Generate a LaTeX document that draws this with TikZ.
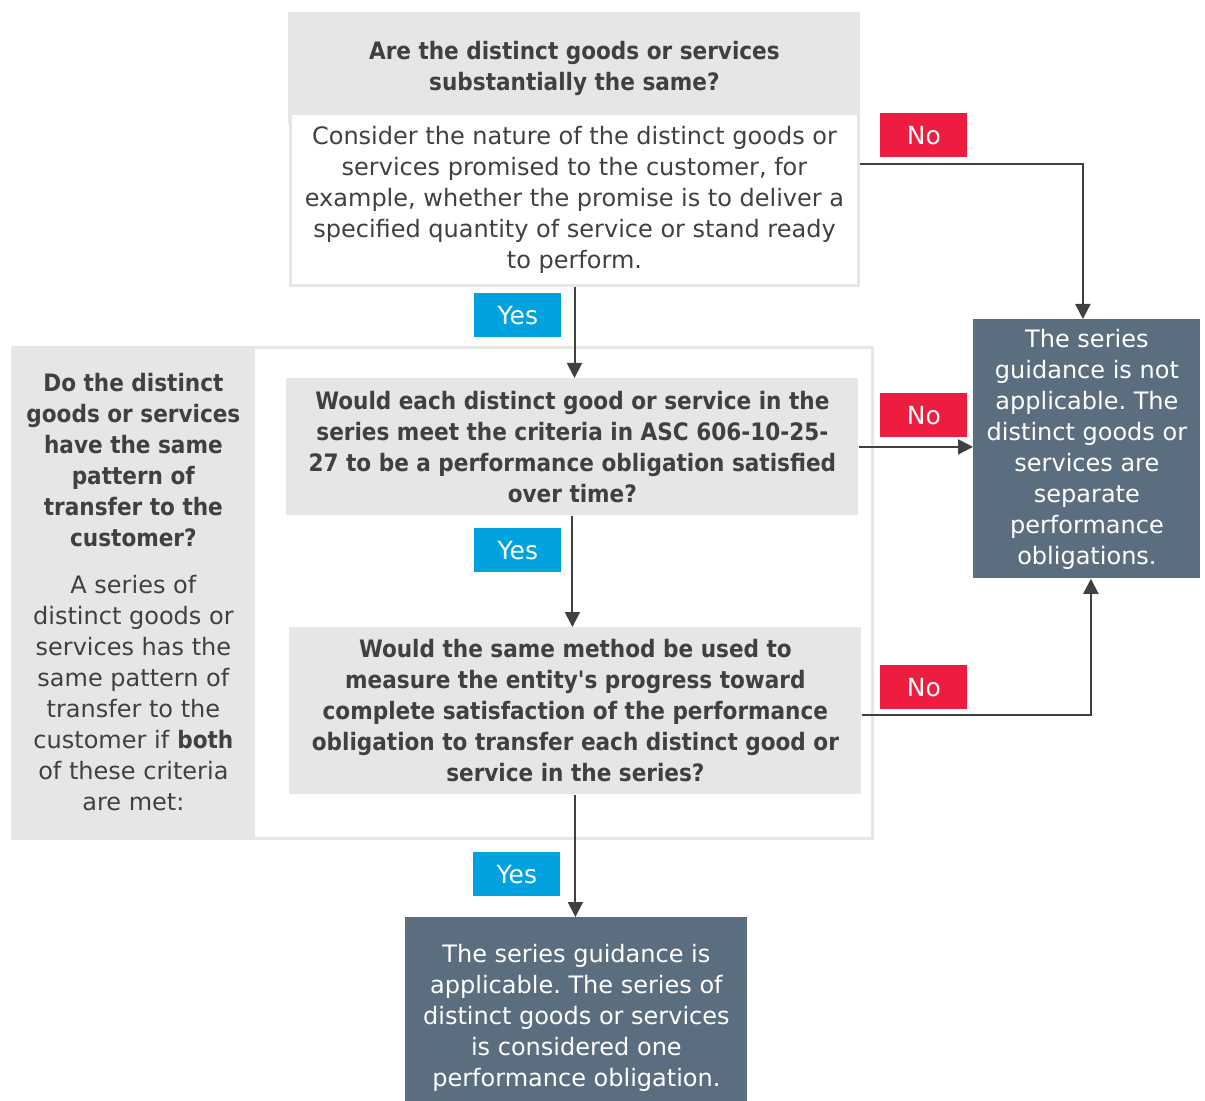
\documentclass[tikz,border=0pt]{standalone}
\usepackage{fontspec}
\setmainfont{DejaVu Sans}[BoldFont={DejaVu Sans Condensed Bold}]
\usetikzlibrary{arrows.meta}
\usetikzlibrary{positioning}
\usetikzlibrary{calc}

\definecolor{boxgray}{HTML}{E6E6E6}
\definecolor{txtgray}{HTML}{404040}
\definecolor{slate}{HTML}{5B6E80}
\definecolor{nored}{HTML}{EE1C3F}
\definecolor{yesblue}{HTML}{00A3E0}
\definecolor{linegray}{HTML}{404040}

\tikzset{
  box/.style={anchor=north west, inner sep=0pt, align=center, text=txtgray,
    font=\fontsize{12}{15.5}\selectfont},
  qbox/.style={box, fill=boxgray, font=\bfseries\fontsize{12}{15.5}\selectfont},
  endbox/.style={box, fill=slate, text=white},
  tag/.style={anchor=north west, inner sep=0pt, text=white, minimum width=43.5pt,
    minimum height=22pt, font=\fontsize{12.5}{15}\selectfont},
  nolab/.style={tag, fill=nored},
  yeslab/.style={tag, fill=yesblue},
  arr/.style={draw=linegray, line width=1pt, -{Triangle[length=7.5pt,width=7.5pt]}}
}
\frenchspacing

\begin{document}
\begin{tikzpicture}[x=0.5pt, y=-0.5pt]
  \clip (0,0) rectangle (1205,1101);
  \fill[white] (0,0) rectangle (1205,1101);

  % first question
  \node[qbox, minimum width=286pt, minimum height=56pt] (head) at (288,12)
    {Are the distinct goods or services\\substantially the same?};
  \node[box, fill=white, draw=boxgray, line width=1.5pt, minimum width=284pt,
    minimum height=86pt] (consider) at (289,112)
    {Consider the nature of the distinct goods or\\
     services promised to the customer, for\\
     example, whether the promise is to deliver a\\
     specified quantity of service or stand ready\\
     to perform.};

  % series criteria
  \node[box, draw=boxgray, line width=1.5pt, minimum width=430pt,
    minimum height=245.5pt] (series) at (11,346) {};
  \node[box, fill=boxgray, minimum width=122pt, minimum height=245.5pt] (pattern) at (11,346)
    {\textbf{Do the distinct}\\ \textbf{goods or services}\\ \textbf{have the same}\\
     \textbf{pattern of}\\ \textbf{transfer to the}\\ \textbf{customer?}\\[8pt]
     A series of\\ distinct goods or\\ services has the\\ same pattern of\\
     transfer to the\\ customer if \textbf{both}\\ of these criteria\\ are met:};

  \node[qbox, minimum width=286pt, minimum height=68.5pt] (overtime) at (286,378)
    {Would each distinct good or service in the\\
     series meet the criteria in ASC 606-10-25-\\
     27 to be a performance obligation satisfied\\
     over time?};
  \node[qbox, minimum width=286pt, minimum height=83.5pt] (method) at (289,627)
    {Would the same method be used to\\
     measure the entity\textquotesingle s progress toward\\
     complete satisfaction of the performance\\
     obligation to transfer each distinct good or\\
     service in the series?};

  % outcomes
  \node[endbox, minimum width=113.5pt, minimum height=129.5pt] (notapp) at (973,319)
    {The series\\ guidance is not\\ applicable. The\\ distinct goods or\\
     services are\\ separate\\ performance\\ obligations.};
  \node[endbox, minimum width=171pt, minimum height=100pt] (applies) at (405,917)
    {The series guidance is\\ applicable. The series of\\ distinct goods or services\\
     is considered one\\ performance obligation.};

  % answers
  \node[nolab] (no1) at (880,113) {No};
  \node[nolab] (no2) at (880,393) {No};
  \node[nolab] (no3) at (880,665) {No};
  \node[yeslab] (yes1) at (474,293) {Yes};
  \node[yeslab] (yes2) at (474,528) {Yes};
  \node[yeslab] (yes3) at (473,852) {Yes};

  \draw[arr] (consider.south) -- (consider.south |- overtime.north);
  \draw[arr] (overtime.south) -- (overtime.south |- method.north);
  \draw[arr] (method.south) -- (method.south |- applies.north);
  \draw[arr] ([yshift=-3pt]consider.east |- no1.south) -| ([xshift=-2pt]notapp.north);
  \draw[arr] (overtime.east) -- (overtime.east -| notapp.west);
  \draw[arr] ([yshift=-2pt]method.east) -| ([xshift=2pt]notapp.south);
\end{tikzpicture}
\end{document}
